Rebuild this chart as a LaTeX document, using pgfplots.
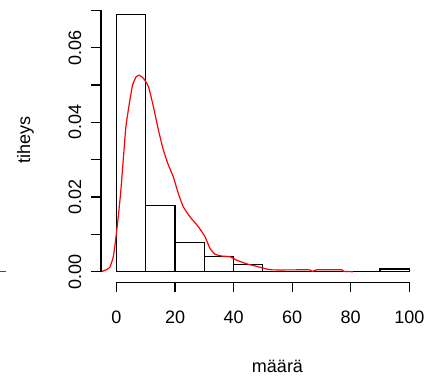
\documentclass[border=0pt]{standalone}
\usepackage{pgfplots}
\pgfplotsset{compat=1.18}
\usepackage{fontspec}
\setmainfont{Liberation Sans}
\begin{document}
\begin{tikzpicture}
\begin{axis}[
  scale only axis,
  width=326bp, height=282.3bp,
  xmin=-5.294, xmax=106.05,
  ymin=-0.00284, ymax=0.07278,
  clip=false,
  axis line style={draw=none},
  tick align=outside,
  major tick length=10bp,
  tick style={black, line width=1.2bp},
  scaled y ticks=false, scaled x ticks=false,
  xtick={0,20,40,60,80,100},
  xticklabels={0,20,40,60,80,100},
  ytick={0,0.01,0.02,0.03,0.04,0.05,0.06,0.07},
  yticklabels={0.00,,0.02,,0.04,,0.06,},
  xtick pos=bottom, ytick pos=left,
  /pgf/number format/assume math mode=true,
  tick label style={font=\fontsize{18bp}{21bp}\selectfont},
  xticklabel style={anchor=base, yshift=-30.7bp},
  yticklabel style={xshift=-10bp, rotate=90, anchor=base},
  xlabel={määrä},
  ylabel={tiheys},
  label style={font=\fontsize{18bp}{21bp}\selectfont},
  xlabel style={at={(axis cs:54.99,-0.0270)}, anchor=base},
  ylabel style={at={(axis cs:-29.54,0.03528)}, anchor=base},
]
% histogram
\addplot[ybar interval, draw=black, fill=white, line width=1.2bp] coordinates {
(0,0.06895) (10,0.01768) (20,0.00788) (30,0.00402) (40,0.00198)
(50,0) (60,0) (70,0) (80,0) (90,0.00072) (100,0.00072)};
% density
\addplot[red, line width=1.2bp, smooth, tension=0.3] coordinates {
(-5.2,0) (-4.5,0.0002) (-3.3,0.0006) (-2.2,0.0013) (-1.1,0.004) (-0.3,0.0085)
(0.6,0.0147) (1.4,0.021) (2.3,0.0299) (3.2,0.0388) (4.4,0.0451) (5.5,0.05)
(6.7,0.0522) (7.8,0.0526) (9.2,0.0518) (10.9,0.0496) (12.6,0.0442) (14.3,0.038)
(16.0,0.0326) (17.7,0.0286) (19.4,0.0254) (21.1,0.021) (22.8,0.0174) (25.1,0.0147)
(27.9,0.0121) (30.2,0.0094) (31.9,0.0063) (33.6,0.0047) (35.9,0.0042) (38.8,0.004)
(41.0,0.0031) (44.5,0.0021) (49,0.0012) (53,0.0005) (65.5,0.0005) (66.5,0.0002)
(67.2,0.0001) (68.4,0.0005) (76.9,0.0005) (77.5,0.0001) (80.7,0)};
% stray red segment at the far left of the figure
\addplot[red, line width=1.2bp] coordinates {(-39.8,0) (-37.6,0)};
% R-style axis lines
\draw[line width=1.2bp] (axis cs:0,-0.00284) -- (axis cs:100,-0.00284);
\draw[line width=1.2bp] (axis cs:-5.294,0) -- (axis cs:-5.294,0.07);
\end{axis}
\pgfresetboundingbox
\useasboundingbox (-101bp,-96.7bp) rectangle (326bp,282.3bp);
\end{tikzpicture}
\end{document}
